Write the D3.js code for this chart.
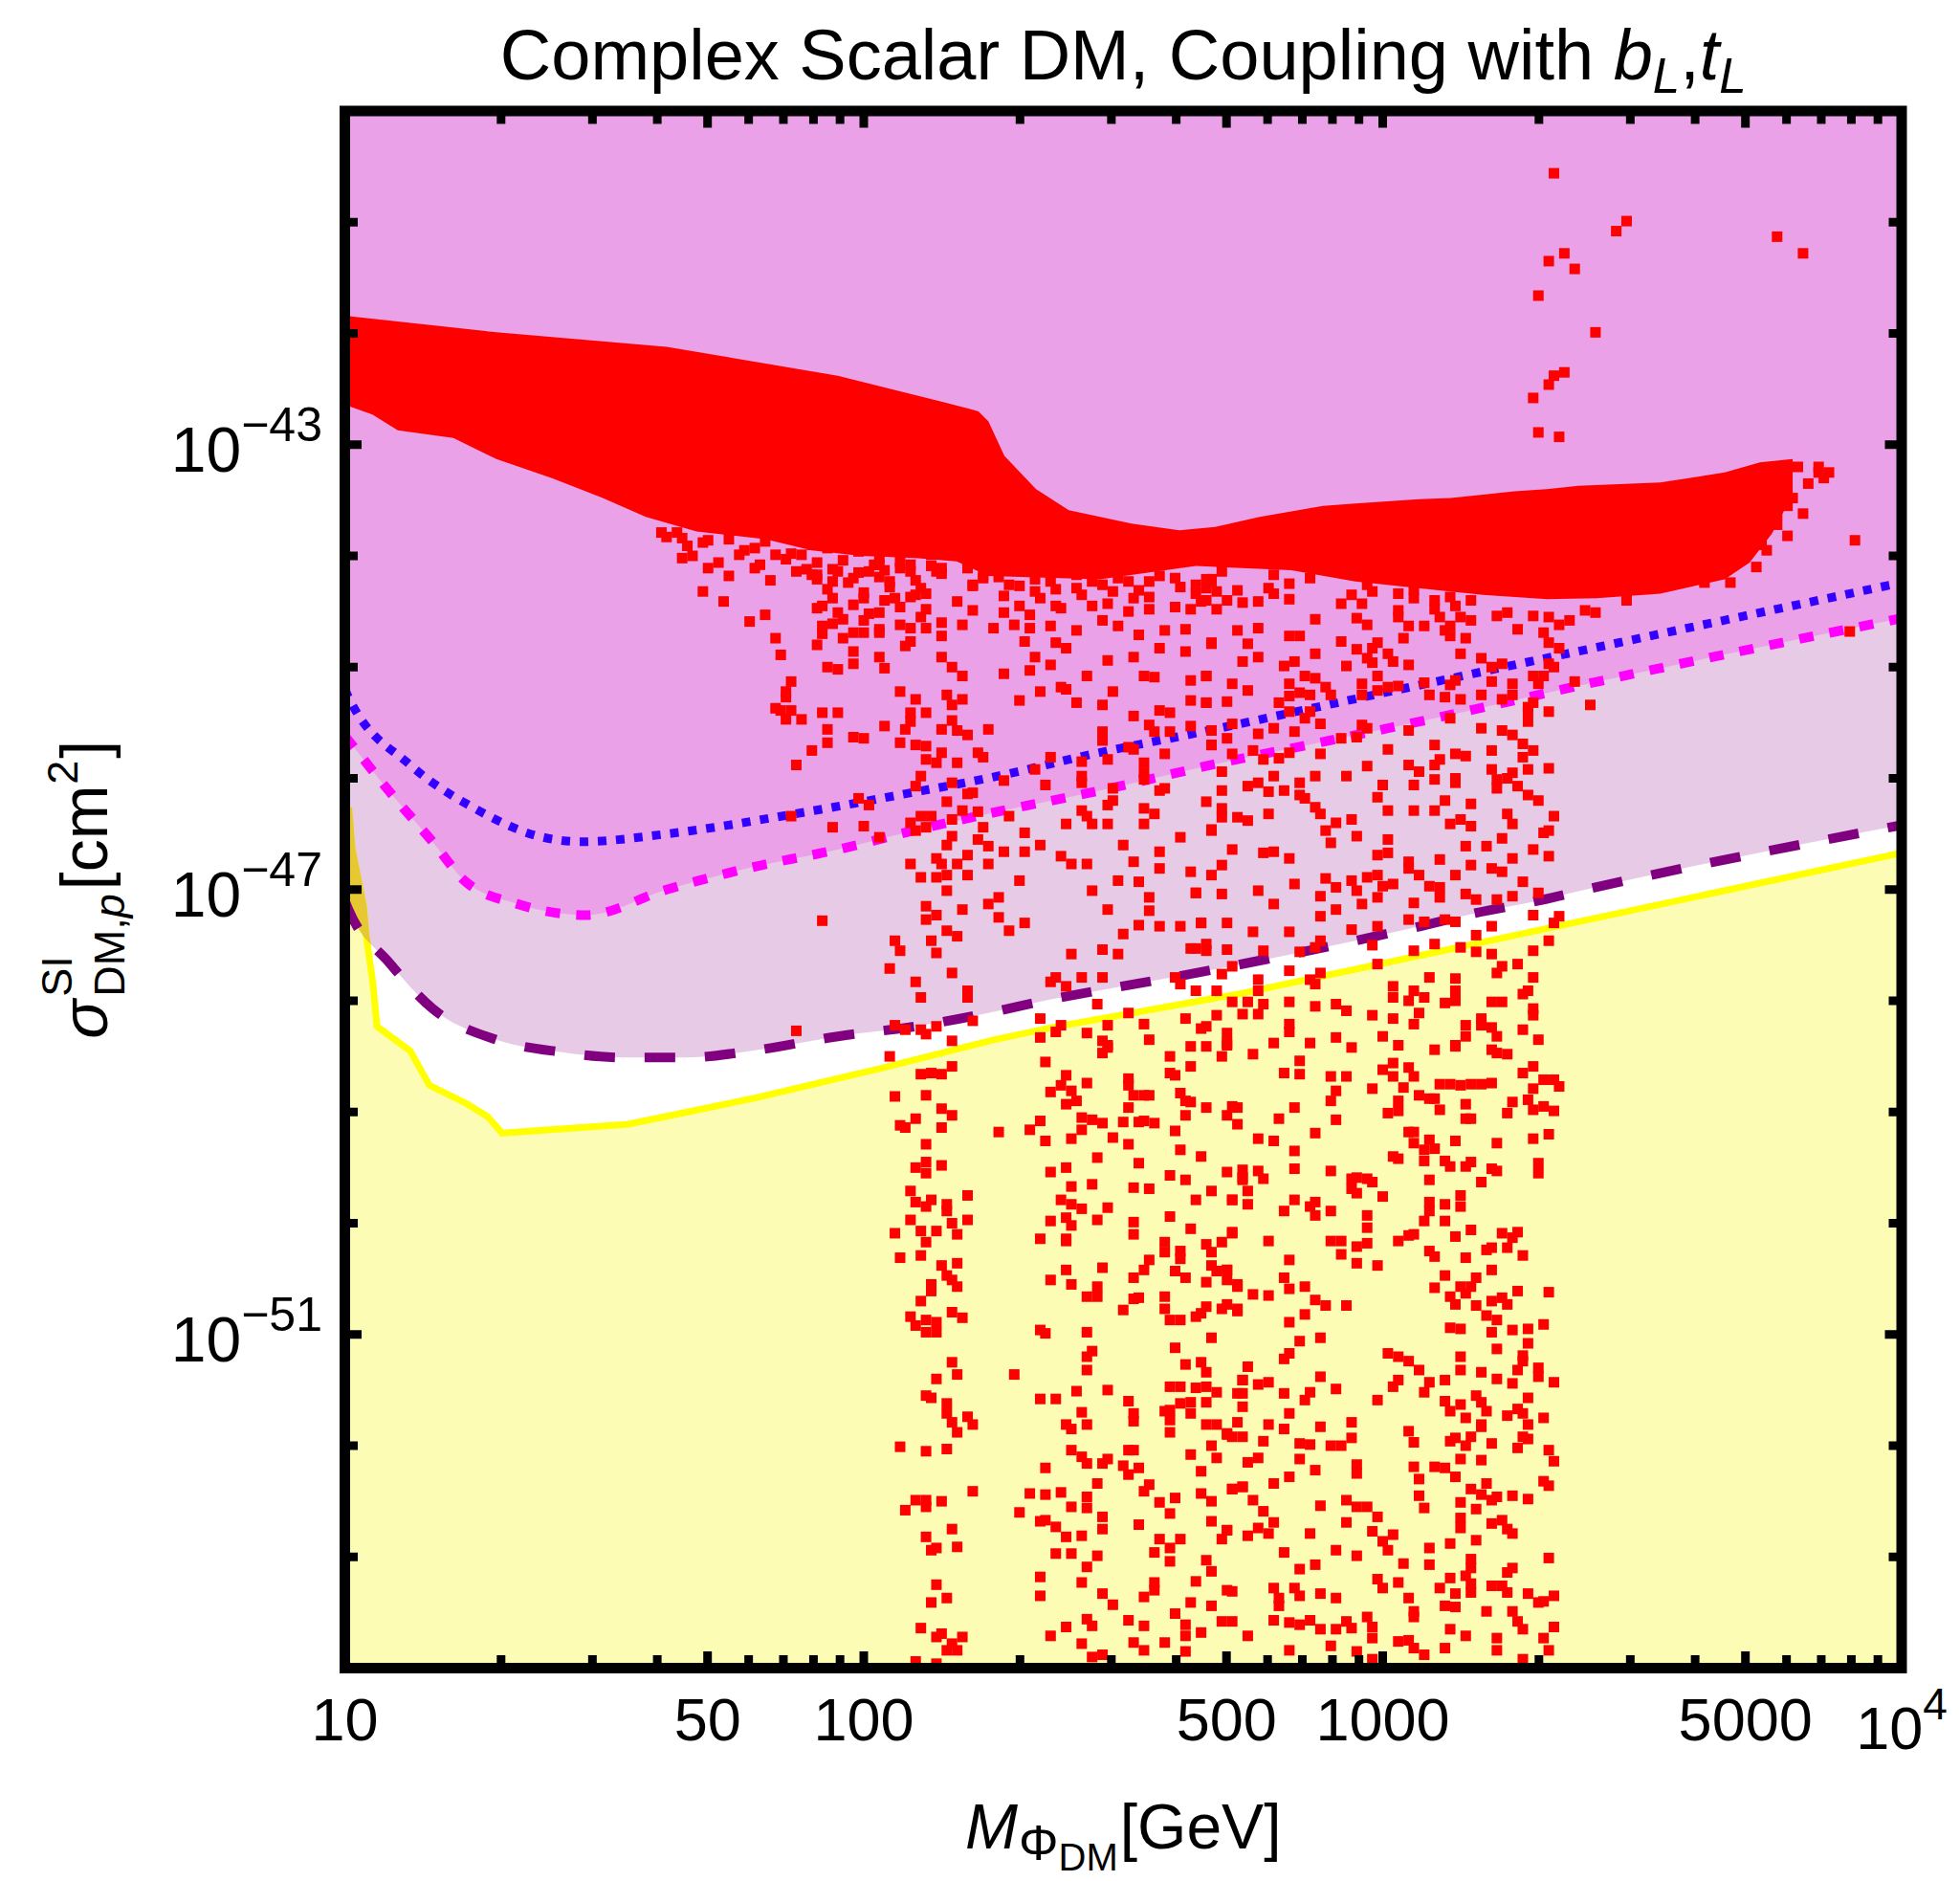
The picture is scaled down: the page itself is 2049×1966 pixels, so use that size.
<!DOCTYPE html>
<html>
<head>
<meta charset="utf-8">
<script src="https://cdn.jsdelivr.net/npm/d3@7"></script>
<style>
  body { margin: 0; background: #fff; }
  svg { display: block; }
  text { font-family: "Liberation Sans", Arial, Helvetica, sans-serif; fill: #000; }
</style>
</head>
<body>
<script>
// Complex scalar DM, SI cross section vs mass
var width = 2049, height = 1966;

// axis ticks
var massMajor = [10, 50, 100, 500, 1000, 5000, 10000];
var massLabelBase = ["10", "50", "100", "500", "1000", "5000", "10"];
var massLabelExp = ["", "", "", "", "", "", "4"];
var massMinor = [20, 30, 40, 60, 70, 80, 90, 200, 300, 400, 600, 700, 800, 900,
                 2000, 3000, 4000, 6000, 7000, 8000, 9000];
var sigmaMajorExp = [-43, -47, -51];
var sigmaMinorExp = [-53, -52, -50, -49, -48, -46, -45, -44, -42, -41];

// limit curves, [log10(M/GeV), log10(sigma/cm^2)]
var blueLimit = [[1.0,-45.20],[1.007,-45.27],[1.126,-45.88],[1.25,-46.27],[1.373,-46.52],[1.456,-46.57],
  [1.62,-46.50],[1.867,-46.32],[2.114,-46.11],[2.238,-46.00],[2.443,-45.78],[2.654,-45.58],[2.903,-45.33],
  [3.113,-45.12],[3.395,-44.84],[4.0,-44.24]];
var magentaLimit = [[1.0,-45.62],[1.014,-45.70],[1.086,-46.12],[1.169,-46.57],[1.233,-46.93],[1.333,-47.13],
  [1.464,-47.23],[1.62,-47.00],[1.784,-46.80],[1.95,-46.64],[2.114,-46.45],[2.238,-46.32],[2.455,-46.11],
  [2.689,-45.86],[2.866,-45.69],[3.1,-45.46],[3.395,-45.15],[4.0,-44.56]];
var purpleLimit = [[1.0,-47.10],[1.007,-47.18],[1.086,-47.66],[1.169,-48.07],[1.292,-48.35],[1.415,-48.46],
  [1.538,-48.51],[1.661,-48.51],[1.784,-48.45],[1.95,-48.32],[2.114,-48.22],[2.24,-48.11],[2.358,-47.99],
  [2.474,-47.89],[2.594,-47.79],[2.947,-47.46],[3.063,-47.34],[3.18,-47.21],[3.29,-47.11],[3.401,-46.99],
  [4.0,-46.42]];
var yellowLimit = [[1.008,-46.29],[1.014,-46.63],[1.036,-47.15],[1.041,-47.41],[1.054,-47.84],[1.062,-48.23],
  [1.126,-48.45],[1.163,-48.76],[1.233,-48.92],[1.275,-49.04],[1.303,-49.19],[1.546,-49.11],[1.784,-48.88],
  [2.031,-48.61],[2.252,-48.35],[2.363,-48.24],[2.732,-47.93],[3.347,-47.32],[4.0,-46.67]];

// dense part of the scan: upper and lower edge
var bandUpper = [[1.0,-41.84],[1.292,-41.99],[1.62,-42.12],[1.95,-42.38],[2.155,-42.62],[2.221,-42.70],
  [2.240,-42.79],[2.271,-43.10],[2.332,-43.40],[2.395,-43.59],[2.516,-43.71],[2.608,-43.77],[2.677,-43.74],
  [2.763,-43.65],[2.824,-43.60],[2.885,-43.55],[2.947,-43.53],[3.008,-43.51],[3.07,-43.49],[3.131,-43.48],
  [3.193,-43.45],[3.254,-43.42],[3.316,-43.40],[3.377,-43.37],[3.535,-43.34],[3.659,-43.25],[3.727,-43.16],
  [3.79,-43.13]];
var bandLower = [[1.0,-42.64],[1.053,-42.73],[1.102,-42.87],[1.209,-42.94],[1.292,-43.13],[1.399,-43.30],
  [1.497,-43.48],[1.58,-43.65],[1.678,-43.78],[1.81,-43.85],[1.90,-43.95],[1.994,-44.00],[2.10,-44.02],
  [2.179,-44.05],[2.24,-44.18],[2.455,-44.21],[2.64,-44.09],[2.824,-44.13],[2.947,-44.23],[3.069,-44.29],
  [3.193,-44.35],[3.317,-44.39],[3.412,-44.38],[3.535,-44.34],[3.659,-44.21],[3.707,-44.06],[3.75,-43.80],
  [3.79,-43.45]];

// scattered scan points
var ptsSpur = [[3.33,-40.56],[3.47,-40.99],[3.45,-41.08],[3.35,-41.28],[3.32,-41.35],[3.37,-41.42],[3.30,-41.66],
  [3.41,-41.99],[3.35,-42.35],[3.33,-42.38],[3.32,-42.46],[3.29,-42.58],[3.30,-42.89],[3.34,-42.93],[3.76,-41.13],
  [3.81,-41.28],[3.91,-43.86],[3.84,-43.25],[3.86,-43.25],[3.76,-43.63],[3.73,-43.90],[3.90,-44.68],[3.54,-44.24],
  [3.62,-44.24],[3.67,-44.24],[3.47,-44.40],[3.70,-43.97],[3.80,-43.20],[3.78,-43.55],[3.79,-43.48],[3.76,-43.72],
  [3.82,-43.35],[3.84,-43.20],[3.85,-43.30],[3.74,-43.95],[3.72,-44.10],[3.78,-43.82],[3.81,-43.62]];
var ptsFringe = [[1.61,-43.79],[1.64,-43.79],[1.69,-43.88],[1.74,-43.85],[1.79,-43.93],[1.83,-43.99],[1.88,-43.99],
  [1.93,-43.93],[1.99,-43.96],[2.03,-44.08],[2.08,-43.88],[2.13,-43.99],[2.20,-44.02],[2.23,-43.93],[1.70,-44.11],
  [1.79,-44.11],[1.87,-44.14],[1.95,-44.14],[2.15,-44.11],[1.69,-44.32],[1.73,-44.41],[1.78,-44.59],[1.81,-44.53],
  [1.83,-44.74],[1.84,-44.89],[1.86,-45.13],[1.85,-45.27],[1.84,-45.39],[1.88,-45.47],[1.90,-45.75],[1.65,-43.84],
  [1.67,-44.00],[1.83,-45.37],[1.87,-45.88],[1.86,-46.34],[1.87,-48.27],[1.85,-45.22],[1.86,-45.39],[1.85,-45.47],
  [2.03,-44.02],[2.09,-44.08],[1.91,-44.17],[1.94,-44.23],[1.98,-44.20],[2.01,-44.14],[2.05,-44.23],
  [2.07,-44.11],[2.11,-44.29],[2.14,-44.14],[2.21,-44.26],[2.23,-44.20],[1.92,-44.45],[1.95,-44.51],[1.96,-44.57],
  [2.00,-44.38],[2.03,-44.51],[2.06,-44.38],[2.10,-44.35],[2.12,-44.48],[1.92,-44.63],[2.28,-44.26],[2.33,-44.32],
  [2.36,-44.23],[2.41,-44.29],[2.44,-44.23],[2.48,-44.32],[2.51,-44.23],[2.55,-44.23],[2.60,-44.20],[2.64,-44.26],
  [2.67,-44.23],
  [1.91,-44.06],[1.94,-44.12],[1.96,-44.04],[1.99,-44.15],[2.02,-44.08],[2.04,-44.13],[2.07,-44.05],[2.09,-44.14],
  [2.13,-44.09],[2.15,-44.16],[2.20,-44.11],[2.22,-44.06],
  [1.91,-44.21],[1.93,-44.30],[1.97,-44.24],[2.00,-44.33],[2.03,-44.19],[2.05,-44.28],[2.10,-44.22],[2.12,-44.34],
  [2.21,-44.27],[2.23,-44.18],
  [1.91,-44.47],[1.94,-44.38],[1.98,-44.44],[2.01,-44.52],[2.04,-44.40],[2.07,-44.46],[2.09,-44.37],[2.11,-44.55],
  [1.92,-44.70],[1.94,-44.61],[1.96,-44.74],[2.00,-44.58],[2.03,-44.69],[2.07,-44.62],[2.09,-44.77],[2.15,-44.60],
  [2.26,-44.19],[2.30,-44.27],[2.33,-44.21],[2.37,-44.30],[2.41,-44.17],[2.46,-44.26],[2.49,-44.20],[2.53,-44.31],
  [2.57,-44.18],[2.61,-44.28],[2.66,-44.21],
  [2.27,-44.36],[2.30,-44.45],[2.34,-44.38],[2.38,-44.47],[2.42,-44.35],[2.47,-44.43],[2.51,-44.50],[2.55,-44.37],
  [2.60,-44.46],[2.64,-44.34],
  [1.62,-43.83],[1.66,-43.91],[1.70,-43.86],[1.77,-43.95],[1.81,-43.87],[1.86,-43.98],[1.90,-43.90],
  [1.65,-44.02],[1.72,-44.06],[1.76,-43.99],[1.80,-44.08],[1.85,-44.03],[1.89,-44.12],
  [1.74,-44.18],[1.82,-44.22],[1.90,-44.17]];
var ptsPink = [[2.18,-44.41],[2.21,-44.49],[2.27,-44.51],[2.32,-44.53],[2.37,-44.45],[2.44,-44.45],[2.52,-44.38],
  [2.55,-44.48],[2.63,-44.48],[2.66,-44.40],[1.98,-44.69],[2.00,-44.69],[2.03,-44.66],[2.09,-44.65],[2.12,-44.65],
  [2.15,-44.72],[2.19,-44.62],[2.25,-44.65],[2.29,-44.62],[2.32,-44.65],[2.36,-44.63],[2.41,-44.67],[2.46,-44.58],
  [2.49,-44.63],[2.53,-44.71],[2.58,-44.67],[2.62,-44.66],[1.91,-44.80],[1.98,-44.86],[2.03,-44.91],[2.08,-44.81],
  [2.15,-44.91],[2.17,-45.00],[2.31,-44.77],[2.33,-44.91],[2.37,-44.78],[2.39,-44.83],[2.47,-44.94],[2.52,-44.91],
  [2.57,-44.83],[2.62,-44.86],[2.67,-44.78],[1.93,-45.00],[1.95,-45.02],[1.98,-44.97],[2.04,-45.01],[2.19,-45.08],
  [2.27,-45.06],[2.32,-45.03],[2.36,-44.98],[2.43,-45.08],[2.54,-45.08],[2.56,-45.09],[2.63,-45.12],[2.66,-45.08],
  [2.07,-45.22],[2.10,-45.29],[2.16,-45.25],[2.19,-45.29],[2.30,-45.30],[2.34,-45.22],[2.38,-45.18],[2.39,-45.20],
  [2.41,-45.32],[2.46,-45.34],[2.48,-45.22],[2.52,-45.44],[2.57,-45.39],[2.59,-45.41],[2.63,-45.30],[2.66,-45.32],
  [1.92,-45.41],[1.95,-45.41],[2.09,-45.41],[2.12,-45.41],[2.17,-45.34],[2.04,-45.53],[2.09,-45.49],[2.17,-45.48],
  [2.15,-45.56],[2.18,-45.57],[2.20,-45.61],[2.24,-45.56],[1.93,-45.56],[1.98,-45.63],[2.00,-45.64],[2.08,-45.56],
  [2.46,-45.58],[2.55,-45.52],[2.56,-45.58],[2.59,-45.58],[2.63,-45.53],[2.67,-45.57],[1.93,-45.68],[2.07,-45.68],
  [2.10,-45.70],[2.12,-45.71],[2.12,-45.83],[2.15,-45.77],[2.22,-45.77],[2.23,-45.81],[2.18,-45.86],[2.14,-45.86],
  [2.46,-45.66],[2.51,-45.72],[2.52,-45.74],[2.47,-45.83],[2.54,-45.86],[2.58,-45.78],[2.36,-45.81],[2.42,-45.85],
  [2.67,-45.70],[2.11,-45.98],[2.10,-46.07],[2.17,-46.04],[2.20,-46.14],[2.21,-46.13],[2.27,-46.02],[2.33,-45.92],
  [2.35,-46.06],[2.42,-45.98],[2.42,-46.04],[2.54,-45.95],[2.54,-46.01],[2.57,-46.11],[2.58,-46.09],[2.48,-46.09],
  [2.48,-46.20],[2.47,-46.24],[1.99,-46.18],[2.01,-46.24],[2.16,-46.21],[2.19,-46.29],[2.22,-46.30],[2.17,-46.37],
  [2.11,-46.34],[2.13,-46.34],[2.09,-46.40],[2.12,-46.44],[2.10,-46.47],[1.94,-46.44],[2.00,-46.43],[2.03,-46.53],
  [2.28,-46.34],[2.31,-46.49],[2.23,-46.44],[2.42,-46.29],[2.43,-46.34],[2.39,-46.41],[2.44,-46.41],[2.47,-46.41],
  [2.54,-46.27],[2.56,-46.32],[2.54,-46.41],[2.67,-46.46],[2.61,-46.53],[2.16,-46.60],[2.17,-46.52],[2.22,-46.55],
  [2.24,-46.61],[2.27,-46.66],[2.31,-46.66],[2.34,-46.60],[2.38,-46.70],[2.40,-46.77],[2.43,-46.77],[2.50,-46.60],
  [2.52,-46.75],[2.57,-46.66],[2.57,-46.81],[2.63,-46.84],[2.09,-46.77],[2.14,-46.72],[2.15,-46.77],[2.18,-46.77],
  [2.20,-46.69],[2.24,-46.77],[2.11,-46.89],[2.14,-46.89],[2.16,-46.87],[2.20,-46.87],[2.30,-46.92],[2.16,-47.01],
  [2.26,-47.07],[2.24,-47.13],[2.44,-47.01],[2.49,-46.92],[2.53,-46.93],[2.55,-47.07],[2.64,-47.03],[1.92,-47.28],
  [2.12,-47.15],[2.14,-47.23],[2.12,-47.27],[2.19,-47.18],[2.26,-47.25],[2.31,-47.30],[2.16,-47.37],[2.18,-47.42],
  [2.28,-47.37],[2.06,-47.46],[2.13,-47.46],[2.07,-47.55],[2.47,-47.18],[2.55,-47.19],[2.53,-47.32],[2.57,-47.33],
  [2.61,-47.33],[2.65,-47.30],[2.50,-47.40],[2.63,-47.53],[2.66,-47.49],[2.46,-47.54],[2.40,-47.58],[2.49,-47.58],
  [2.14,-47.57]];
var ptsRight = [[2.69,-44.14],[2.67,-44.21],[2.79,-44.17],[2.82,-44.25],[2.86,-44.20],[2.66,-44.29],[2.68,-44.32],
  [2.72,-44.31],[2.78,-44.29],[2.79,-44.34],[2.65,-44.41],[2.70,-44.40],[2.73,-44.42],[2.76,-44.41],[2.82,-44.39],
  [2.92,-44.43],[2.94,-44.35],[2.97,-44.26],[2.96,-44.43],[3.03,-44.34],[3.06,-44.30],[3.06,-44.38],[3.10,-44.40],
  [3.13,-44.37],[3.14,-44.45],[3.17,-44.40],[2.98,-44.32],[2.68,-44.48],[2.87,-44.57],[2.95,-44.56],[2.97,-44.62],
  [3.03,-44.49],[3.03,-44.55],[3.05,-44.63],[3.08,-44.63],[3.10,-44.48],[3.11,-44.55],[3.13,-44.63],[3.15,-44.55],
  [3.17,-44.58],[3.22,-44.54],[3.24,-44.51],[3.29,-44.54],[3.32,-44.55],[3.34,-44.62],[3.36,-44.58],[3.26,-44.66],
  [3.31,-44.69],[3.39,-44.49],[3.41,-44.51],[2.72,-44.67],[2.76,-44.65],[2.67,-44.79],[2.74,-44.79],[2.82,-44.72],
  [2.84,-44.72],[2.92,-44.77],[2.95,-44.84],[2.98,-44.83],[2.99,-44.78],[3.04,-44.74],[3.12,-44.67],[3.13,-44.72],
  [3.16,-44.74],[3.32,-44.78],[3.34,-44.83],[2.73,-44.95],[2.76,-44.91],[2.81,-44.99],[2.83,-44.95],[2.87,-44.88],
  [2.93,-44.99],[2.97,-44.92],[2.98,-44.96],[3.01,-44.88],[3.05,-44.98],[3.02,-44.95],[3.15,-44.88],[3.19,-44.92],
  [3.21,-45.00],[3.23,-44.97],[3.32,-44.97],[3.29,-45.08],[3.33,-45.00],[2.66,-45.08],[2.71,-45.15],[2.74,-45.21],
  [2.82,-45.15],[2.85,-45.08],[2.87,-45.10],[2.89,-45.18],[2.96,-45.15],[2.99,-45.08],[3.01,-45.18],[3.03,-45.17],
  [3.08,-45.14],[3.13,-45.16],[3.14,-45.12],[3.21,-45.13],[3.25,-45.15],[3.30,-45.15],[3.37,-45.13],[3.31,-45.08],
  [2.66,-45.32],[2.70,-45.31],[2.80,-45.32],[2.82,-45.26],[2.84,-45.23],[2.86,-45.25],[2.90,-45.25],[2.96,-45.25],
  [2.99,-45.21],[3.09,-45.25],[3.12,-45.27],[3.15,-45.29],[3.19,-45.25],[3.23,-45.29],[3.25,-45.25],[3.28,-45.36],
  [3.29,-45.32],[3.40,-45.34],[3.32,-45.40],[2.71,-45.51],[2.76,-45.60],[2.79,-45.55],[2.83,-45.58],[2.88,-45.51],
  [2.82,-45.40],[2.85,-45.46],[2.86,-45.40],[2.96,-45.52],[2.97,-45.55],[2.92,-45.64],[2.95,-45.63],[3.05,-45.57],
  [3.13,-45.46],[3.19,-45.55],[3.23,-45.57],[3.25,-45.61],[3.28,-45.40],[3.28,-45.49],[2.67,-45.70],[2.70,-45.64],
  [2.71,-45.78],[2.75,-45.75],[2.77,-45.83],[2.80,-45.82],[2.82,-45.77],[2.88,-45.78],[3.01,-45.74],[3.10,-45.70],
  [3.11,-45.83],[3.14,-45.78],[3.16,-45.80],[3.21,-45.75],[3.27,-45.81],[3.29,-45.75],[3.27,-45.69]];
var ptsLavender = [[2.69,-45.94],[2.66,-46.21],[2.69,-46.11],[2.69,-46.27],[2.72,-46.35],[2.74,-46.38],[2.69,-46.35],
  [2.67,-46.47],[2.74,-46.07],[2.76,-46.04],[2.78,-46.12],[2.78,-46.32],[2.79,-45.98],[2.81,-46.11],[2.84,-46.04],
  [2.84,-46.15],[2.85,-46.18],[2.87,-45.98],[2.87,-46.26],[2.88,-46.32],[2.93,-45.98],[2.91,-46.40],[2.89,-46.47],
  [2.90,-46.58],[2.94,-46.37],[2.95,-46.52],[2.97,-45.89],[2.99,-46.17],[3.00,-46.06],[3.01,-46.29],[3.01,-46.55],
  [3.05,-45.88],[3.06,-46.06],[3.06,-46.29],[3.07,-45.94],[3.10,-45.88],[3.10,-46.01],[3.10,-46.29],[3.12,-46.20],
  [3.13,-46.41],[3.14,-46.00],[3.14,-46.04],[3.15,-46.37],[3.17,-46.23],[3.17,-46.43],[3.16,-46.61],[3.20,-46.61],
  [3.21,-45.92],[3.22,-46.01],[3.22,-46.09],[3.24,-46.32],[3.23,-46.54],[3.24,-46.00],[3.25,-46.41],[3.25,-45.95],
  [3.26,-46.07],[3.28,-46.15],[3.28,-45.92],[3.30,-46.20],[3.31,-46.49],[3.32,-45.91],[3.33,-46.34],[3.32,-46.47],
  [2.71,-46.64],[2.69,-46.78],[2.67,-46.87],[2.77,-46.67],[2.79,-46.66],[2.82,-46.72],[2.83,-46.95],[2.89,-46.90],
  [2.91,-46.98],[2.94,-46.92],[2.97,-46.89],[2.95,-47.01],[2.99,-46.69],[3.01,-46.67],[2.99,-46.87],[3.00,-46.97],
  [3.02,-46.95],[3.05,-46.75],[3.05,-46.81],[3.07,-46.87],[3.09,-46.97],[3.11,-46.73],[3.11,-46.98],[3.14,-46.87],
  [3.17,-46.78],[3.21,-46.81],[3.23,-46.84],[3.25,-46.72],[3.29,-46.64],[3.32,-46.70],[3.27,-46.93],[3.30,-47.03],
  [2.65,-47.30],[2.69,-47.04],[2.70,-47.30],[2.76,-47.01],[2.79,-47.13],[2.88,-47.06],[2.91,-47.18],[2.96,-47.13],
  [2.99,-47.07],[3.06,-47.12],[3.05,-47.27],[3.08,-47.29],[3.11,-47.07],[3.12,-47.27],[3.14,-47.29],[3.16,-47.04],
  [3.18,-47.09],[3.22,-47.09],[3.25,-47.06],[3.29,-47.23],[3.34,-47.24],[3.33,-47.30],[2.75,-47.38],[2.82,-47.38],
  [2.88,-47.24],[2.88,-47.46],[2.94,-47.36],[2.99,-47.33],[3.18,-47.41],[3.21,-47.33],[2.64,-47.03],[2.64,-47.53],
  [2.66,-47.55],[2.70,-47.54],[2.77,-47.55],[2.84,-47.56],[2.87,-47.52],[2.98,-47.50],[3.06,-47.55],[3.10,-47.49],
  [3.15,-47.52],[3.18,-47.56],[3.21,-47.58],[3.29,-47.55],[3.32,-47.46]];
var ptsLowLeft = [[2.05,-47.71],[2.10,-47.83],[2.11,-47.97],[2.17,-47.75],[2.20,-47.91],[2.20,-47.97],[2.06,-48.22],
  [2.08,-48.26],[2.11,-48.26],[2.14,-48.23],[2.12,-48.30],[2.17,-48.36],[2.21,-48.18],[2.05,-48.50],[2.11,-48.66],
  [2.13,-48.65],[2.15,-48.66],[2.17,-48.59],[2.06,-48.86],[2.12,-48.85],[2.15,-48.97],[2.10,-49.06],[2.07,-49.12],
  [2.08,-49.14],[2.15,-49.14],[2.17,-49.03],[2.12,-49.29],[2.10,-49.50],[2.12,-49.45],[2.15,-49.48],[2.12,-49.55],
  [2.09,-49.71],[2.10,-49.81],[2.12,-49.85],[2.13,-49.79],[2.16,-49.83],[2.16,-49.89],[2.20,-49.75],[2.20,-49.97],
  [2.09,-49.97],[2.11,-50.07],[2.14,-50.07],[2.17,-50.00],[2.18,-50.10],[2.06,-50.09],[2.12,-50.17],[2.07,-50.31],
  [2.11,-50.29],[2.15,-50.38],[2.18,-50.36],[2.16,-50.47],[2.17,-50.51],[2.18,-50.57],[2.13,-50.55],[2.13,-50.61],
  [2.11,-50.70],[2.09,-50.84],[2.10,-50.92],[2.12,-50.87],[2.14,-50.89],[2.14,-50.98],[2.12,-50.98],[2.17,-50.80],
  [2.19,-50.85],[2.17,-51.25],[2.18,-51.36],[2.14,-51.40],[2.12,-51.55],[2.13,-51.57],[2.16,-51.62],[2.16,-51.71],
  [2.17,-51.79],[2.18,-51.88],[2.20,-51.74],[2.21,-51.81],[2.07,-52.01],[2.12,-52.05],[2.16,-52.03],[2.21,-52.41],
  [2.10,-52.49],[2.12,-52.49],[2.12,-52.55],[2.15,-52.50],[2.08,-52.58],[2.17,-52.75],[2.12,-52.82],[2.18,-52.91],
  [2.13,-52.94],[2.14,-52.92],[2.14,-53.25],[2.13,-53.41],[2.16,-53.37],[2.11,-53.64],[2.14,-53.72],[2.15,-53.69],
  [2.17,-53.78],[2.19,-53.72],[2.18,-53.84],[2.16,-53.84],[2.10,-53.94],[2.14,-53.96],[2.26,-49.18],
  [2.29,-51.36],[2.34,-51.58],[2.37,-51.58],[2.30,-52.60],[2.32,-52.43],[2.35,-52.44],[2.35,-52.20],[2.34,-52.68],
  [2.34,-53.18],[2.34,-53.35],[2.34,-50.96],[2.35,-50.99],[2.36,-50.51],[2.34,-50.14],[2.36,-49.98],[2.36,-48.82],
  [2.34,-49.08],[2.32,-49.16],[2.35,-49.26],[2.35,-48.55],[2.38,-48.22],[2.34,-48.33],[2.34,-48.16],[2.37,-48.28],
  [2.36,-49.54],[2.39,-49.50],[2.38,-49.79],[2.40,-49.67],[2.40,-49.83],[2.39,-49.95],[2.40,-50.02],[2.39,-50.14],
  [2.39,-50.16],[2.39,-50.42],[2.40,-50.55],[2.42,-49.87],[2.44,-49.65],[2.45,-49.97],[2.47,-49.86],[2.38,-48.76],
  [2.39,-48.67],[2.40,-48.81],[2.41,-48.90],[2.39,-48.93],[2.43,-48.74],[2.42,-49.05],[2.42,-49.16],[2.40,-49.24],
  [2.44,-49.07],[2.46,-49.10],[2.45,-49.41],[2.43,-50.66],[2.45,-50.66],[2.45,-50.57],[2.46,-50.40],[2.43,-50.98],
  [2.44,-51.15],[2.43,-51.20],[2.43,-51.32],[2.41,-51.51],[2.42,-51.70],[2.39,-51.81],[2.40,-51.85],[2.43,-51.81],
  [2.40,-52.04],[2.42,-52.10],[2.43,-52.16],[2.47,-52.12],[2.46,-52.16],[2.45,-52.34],[2.38,-52.42],[2.40,-52.55],
  [2.43,-52.46],[2.43,-52.56],[2.35,-52.67],[2.37,-52.73],[2.39,-52.82],[2.42,-52.81],[2.37,-52.97],[2.40,-52.97],
  [2.45,-52.99],[2.46,-52.64],[2.46,-52.75],[2.43,-53.09],[2.42,-53.23],[2.46,-53.33],[2.48,-53.43],[2.39,-53.63],
  [2.36,-53.71],[2.43,-53.56],[2.44,-53.62],[2.42,-53.78],[2.44,-53.90],[2.46,-53.88],[2.47,-51.50],[2.51,-51.60],
  [2.52,-51.78],[2.51,-52.04],[2.52,-52.04],[2.51,-52.26],[2.50,-52.18],[2.53,-52.20],[2.52,-51.71],[2.51,-48.70],
  [2.51,-48.76],[2.52,-48.85],[2.54,-48.85],[2.55,-48.85],[2.51,-48.96],[2.50,-49.09],[2.53,-49.09],[2.54,-49.08],
  [2.56,-49.10],[2.48,-49.23],[2.51,-49.29],[2.53,-49.46],[2.52,-49.68],[2.55,-49.69],[2.52,-49.99],[2.52,-50.10],
  [2.55,-50.33],[2.54,-50.42],[2.52,-50.49],[2.53,-50.67],[2.50,-50.78],[2.52,-50.68],[2.53,-52.71],[2.54,-52.41],
  [2.55,-52.35],[2.57,-52.51],[2.60,-52.47],[2.59,-52.61],[2.57,-52.84],[2.61,-52.84],[2.56,-52.96],[2.59,-52.92],
  [2.59,-53.04],[2.56,-53.23],[2.56,-53.30],[2.54,-53.36],[2.60,-53.51],[2.63,-53.41],[2.62,-53.61],[2.62,-53.71],
  [2.51,-53.57],[2.52,-53.77],[2.54,-53.62],[2.54,-53.84],[2.58,-53.77],[2.62,-53.85],[2.65,-53.68],[2.67,-53.44],
  [2.69,-53.58],[2.71,-53.31],[2.64,-53.22],[2.67,-53.13],[2.66,-53.03],[2.69,-52.84],[2.70,-52.76],[2.67,-52.68],
  [2.67,-52.50],[2.65,-52.43],[2.71,-52.39],[2.73,-52.37],[2.68,-52.11],[2.67,-52.00],[2.65,-52.23],[2.63,-52.08],
  [2.70,-51.90],[2.71,-51.92],[2.68,-51.81],[2.66,-51.81],[2.63,-51.71],[2.63,-51.61],[2.66,-51.61],[2.61,-51.62],
  [2.59,-51.68],[2.58,-51.69],[2.59,-51.77],[2.59,-51.88],[2.61,-51.47],[2.59,-51.47],[2.64,-51.48],[2.66,-51.47],
  [2.68,-51.52],[2.72,-51.53],[2.73,-51.41],[2.60,-51.12],[2.62,-51.27],[2.65,-51.25],[2.66,-51.34],[2.67,-51.03],
  [2.61,-50.87],[2.59,-50.87],[2.58,-50.77],[2.58,-50.66],[2.60,-50.43],[2.62,-50.49],[2.66,-50.53],[2.64,-50.84],
  [2.65,-50.81],[2.66,-50.75],[2.69,-50.77],[2.70,-50.73],[2.72,-50.79],[2.67,-50.38],[2.68,-50.43],[2.70,-50.42],
  [2.70,-50.51],[2.72,-50.55],[2.67,-50.26],[2.66,-50.19],[2.69,-50.17],[2.71,-50.08],[2.63,-50.05],[2.61,-50.25],
  [2.61,-50.32],[2.58,-50.17],[2.58,-50.26],[2.59,-49.94],[2.64,-49.79],[2.67,-49.71],[2.71,-49.79],[2.70,-49.54],
  [2.73,-49.59],[2.59,-49.57],[2.62,-49.61],[2.61,-49.34],[2.65,-49.40],[2.70,-49.03],[2.72,-48.96],[2.63,-48.91],
  [2.66,-48.96],[2.60,-49.17],[2.62,-49.03],[2.62,-48.90],[2.61,-48.83],[2.60,-48.67],[2.59,-48.65],[2.63,-48.59],
  [2.59,-48.50],[2.63,-48.41],[2.66,-48.41],[2.69,-48.50],[2.70,-48.40],[2.70,-48.29],[2.65,-48.25],[2.66,-48.23],
  [2.62,-48.16],[2.68,-48.13],[2.71,-48.01],[2.64,-47.91],[2.68,-47.91],[2.69,-47.76],[2.60,-47.79],[2.61,-47.85],
  [2.54,-48.21],[2.55,-48.35],[2.51,-48.11],[2.47,-48.22],[2.47,-48.40],[2.46,-48.36],[2.47,-48.42],[2.46,-48.47],
  [2.43,-48.29],[2.45,-48.03],[2.46,-47.79],[2.37,-47.79],[2.42,-47.79],[2.36,-47.83],[2.39,-47.87]];
var ptsLowRight = [[2.71,-47.69],[2.76,-47.81],[2.76,-47.91],[2.82,-47.73],[2.86,-47.81],[2.87,-47.85],[2.88,-47.75],
  [2.74,-48.01],[2.77,-48.03],[2.82,-48.01],[2.87,-48.05],[2.91,-48.03],[2.93,-48.09],[2.73,-48.12],[2.76,-48.12],
  [2.82,-48.21],[2.82,-48.28],[2.70,-48.38],[2.75,-48.48],[2.79,-48.38],[2.86,-48.38],[2.91,-48.33],[2.94,-48.42],
  [2.81,-48.65],[2.84,-48.54],[2.84,-48.66],[2.90,-48.68],[2.93,-48.68],[2.91,-48.81],[2.90,-48.90],[2.71,-48.95],
  [2.72,-49.11],[2.80,-49.06],[2.83,-48.96],[2.87,-49.19],[2.91,-49.07],[2.76,-49.24],[2.79,-49.26],[2.83,-49.35],
  [2.83,-49.51],[2.90,-49.53],[2.94,-49.60],[2.95,-49.59],[2.97,-49.60],[2.94,-49.69],[2.95,-49.73],[2.98,-49.63],
  [3.00,-49.76],[2.73,-49.52],[2.73,-49.61],[2.76,-49.53],[2.77,-49.60],[2.74,-49.71],[2.71,-49.79],[2.74,-49.83],
  [2.81,-49.89],[2.83,-49.79],[2.86,-49.85],[2.87,-49.81],[2.87,-49.93],[2.90,-49.89],[2.71,-50.09],[2.78,-50.16],
  [2.90,-50.16],[2.92,-50.16],[2.95,-50.21],[2.97,-50.18],[2.97,-49.93],[2.97,-50.04],[2.92,-50.28],[2.95,-50.36],
  [2.99,-50.38],[2.82,-50.33],[2.81,-50.49],[2.82,-50.59],[2.85,-50.57],[2.70,-50.42],[2.72,-50.57],[2.75,-50.64],
  [2.78,-50.65],[2.72,-50.77],[2.82,-50.89],[2.85,-50.82],[2.87,-50.69],[2.89,-50.74],[2.93,-50.74],[2.88,-51.03],
  [2.84,-51.06],[2.81,-51.22],[2.82,-51.17],[2.74,-51.29],[2.73,-51.41],[2.76,-51.45],[2.78,-51.43],[2.73,-51.53],
  [2.73,-51.65],[2.81,-51.53],[2.85,-51.59],[2.86,-51.52],[2.88,-51.38],[2.91,-51.49],[2.82,-51.71],[2.72,-51.79],
  [2.70,-51.89],[2.73,-51.92],[2.77,-51.96],[2.78,-51.81],[2.81,-51.85],[2.84,-51.98],[2.86,-51.99],[2.88,-51.83],
  [2.90,-52.00],[2.92,-52.00],[2.94,-51.79],[2.94,-51.93],[2.84,-52.12],[2.87,-52.22],[2.95,-52.17],[2.95,-52.25],
  [2.74,-52.15],[2.76,-52.11],[2.71,-52.39],[2.73,-52.37],[2.79,-52.34],[2.82,-52.28],[2.75,-52.49],[2.77,-52.59],
  [2.76,-52.74],[2.78,-52.79],[2.79,-52.69],[2.70,-52.76],[2.74,-52.81],[2.81,-52.96],[2.86,-52.79],[2.88,-52.54],
  [2.93,-52.49],[2.95,-52.55],[2.97,-52.55],[2.93,-52.69],[2.98,-52.77],[2.99,-52.64],[2.84,-53.11],[2.87,-53.07],
  [2.91,-52.94],[2.95,-52.99],[2.70,-53.30],[2.79,-53.28],[2.80,-53.37],[2.83,-53.28],[2.84,-53.35],[2.88,-53.33],
  [2.91,-53.37],[2.80,-53.44],[2.79,-53.57],[2.82,-53.59],[2.84,-53.61],[2.86,-53.57],[2.88,-53.65],[2.91,-53.65],
  [2.93,-53.58],[2.94,-53.64],[2.97,-53.54],[2.98,-53.73],[2.71,-53.58],[2.74,-53.71],[2.82,-53.84],[2.90,-53.80],
  [2.95,-53.85],[2.98,-53.92],[3.03,-53.76],[3.05,-53.75],[3.08,-53.88],[2.98,-53.63],
  [2.99,-47.67],[3.02,-47.87],[3.02,-47.97],[3.05,-48.00],[3.06,-47.91],[3.08,-47.97],[3.09,-47.79],[3.12,-48.02],
  [3.14,-47.80],[3.14,-47.91],[3.14,-48.00],[2.98,-48.13],[3.02,-48.16],[3.06,-48.21],[3.07,-48.11],[3.10,-48.44],
  [3.14,-48.41],[3.00,-48.32],[3.03,-48.40],[3.02,-48.56],[3.02,-48.68],[3.00,-48.62],[2.98,-48.79],[3.05,-48.60],
  [3.06,-48.68],[3.04,-48.78],[3.07,-48.85],[3.10,-48.88],[3.11,-48.75],[3.13,-48.75],[3.15,-48.76],[3.17,-48.75],
  [3.19,-48.75],[3.21,-48.74],[3.23,-47.69],[3.22,-47.75],[3.26,-47.67],[3.27,-47.94],[3.23,-48.01],[3.28,-47.91],
  [3.29,-47.79],[3.29,-48.07],[3.29,-48.13],[3.21,-48.01],[3.21,-48.24],[3.22,-48.32],[3.27,-48.26],[3.19,-48.16],
  [3.19,-48.22],[3.16,-48.22],[3.16,-48.32],[3.14,-48.40],[3.21,-48.44],[3.22,-48.47],[3.24,-48.48],[3.30,-48.35],
  [3.27,-48.65],[3.29,-48.59],[3.31,-48.71],[3.33,-48.71],[3.34,-48.77],[3.29,-48.79],[3.25,-48.91],[3.28,-48.89],
  [3.29,-48.98],[3.31,-48.95],[3.33,-48.99],[3.24,-49.01],[3.16,-48.93],[3.16,-49.06],[3.17,-49.06],[3.11,-48.98],
  [3.09,-48.88],[3.03,-48.90],[3.03,-48.99],[3.01,-49.01],[3.05,-49.18],[3.06,-49.18],[3.06,-49.28],[3.09,-49.25],
  [3.10,-49.33],[3.14,-49.26],[3.22,-49.28],[3.29,-49.24],[3.32,-49.20],[3.08,-49.34],[3.08,-49.44],[3.02,-49.40],
  [3.03,-49.42],[3.12,-49.44],[3.13,-49.49],[3.16,-49.49],[3.17,-49.45],[3.21,-49.51],[3.22,-49.53],[3.19,-49.63],
  [3.09,-49.61],[3.30,-49.46],[3.30,-49.55],[3.15,-49.75],[3.15,-49.85],[3.12,-49.83],[3.09,-49.81],[3.09,-49.89],
  [3.08,-49.98],[3.12,-49.98],[3.14,-50.12],[3.17,-50.06],[3.06,-50.10],[3.05,-50.11],[3.03,-50.16],[3.23,-50.09],
  [3.25,-50.13],[3.26,-50.08],[3.24,-50.22],[3.27,-50.29],[3.21,-50.22],[3.20,-50.24],[3.16,-50.31],[3.10,-50.30],
  [3.09,-50.25],[3.12,-50.47],[3.10,-50.58],[3.15,-50.57],[3.17,-50.57],[3.18,-50.49],[3.21,-50.42],[3.13,-50.66],
  [3.14,-50.73],[3.16,-50.63],[3.18,-50.74],[3.21,-50.70],[3.23,-50.67],[3.24,-50.73],[3.26,-50.61],[3.32,-50.62],
  [3.13,-50.94],[3.15,-50.95],[3.20,-50.83],[3.22,-50.87],[3.21,-50.98],[3.25,-50.96],[3.28,-50.95],[3.31,-50.91],
  [3.22,-51.13],[3.28,-51.08],[3.27,-51.19],[3.27,-51.24],[3.26,-51.32],[3.25,-51.44],[3.30,-51.30],[3.30,-51.38],
  [3.33,-51.43],[3.22,-51.40],[3.19,-51.34],[3.15,-51.20],[3.15,-51.32],[3.03,-51.20],[3.05,-51.24],[3.01,-51.17],
  [3.07,-51.32],[3.03,-51.41],[3.02,-51.47],[3.09,-51.43],[3.08,-51.52],[3.12,-51.41],[2.99,-51.59],[3.12,-51.60],
  [3.13,-51.69],[3.15,-51.63],[3.16,-51.75],[3.18,-51.55],[3.19,-51.61],[3.20,-51.69],[3.19,-51.81],[3.24,-51.73],
  [3.26,-51.67],[3.28,-51.57],[3.27,-51.71],[3.31,-51.75],[3.32,-52.04],[3.33,-52.14],[3.28,-51.81],[3.27,-51.92],
  [3.28,-51.94],[3.26,-52.02],[3.21,-51.98],[3.19,-51.83],[3.17,-51.92],[3.16,-52.00],[3.14,-51.93],[3.13,-51.96],
  [3.15,-52.12],[3.19,-52.13],[3.05,-51.87],[3.06,-51.97],[3.06,-52.19],[3.07,-52.30],[3.10,-52.19],[3.12,-52.20],
  [3.14,-52.28],[3.07,-52.45],[3.08,-52.56],[3.15,-52.51],[3.15,-52.65],[3.17,-52.39],[3.20,-52.34],[3.19,-52.44],
  [3.21,-52.49],[3.22,-52.46],[3.25,-52.45],[3.28,-52.48],[3.31,-52.32],[3.32,-52.36],[3.18,-52.57],[3.21,-52.70],
  [3.23,-52.67],[3.24,-52.75],[3.25,-52.79],[3.15,-52.74],[3.09,-52.92],[3.13,-52.88],[3.18,-52.85],[3.02,-52.80],
  [3.00,-52.86],[3.01,-52.94],[3.04,-53.06],[3.09,-53.07],[3.17,-53.02],[3.17,-53.10],[3.16,-53.17],[3.24,-53.14],
  [3.25,-53.10],[3.32,-53.01],[3.13,-53.19],[3.11,-53.28],[3.14,-53.33],[3.17,-53.24],[3.17,-53.32],[3.21,-53.26],
  [3.23,-53.26],[3.24,-53.32],[3.28,-53.33],[3.31,-53.40],[3.33,-53.35],[3.05,-53.37],[3.06,-53.49],[3.06,-53.54],
  [3.03,-53.23],[2.99,-53.20],[3.00,-53.28],[3.12,-53.44],[3.14,-53.45],[3.20,-53.49],[3.25,-53.49],[3.26,-53.58],
  [3.30,-53.41],[3.33,-53.63],[3.31,-53.73],[3.27,-53.65],[3.22,-53.73],[3.22,-53.84],[3.16,-53.71],[3.13,-53.65],
  [3.12,-53.82],[3.06,-53.82],[3.32,-53.84],[3.27,-53.92]];

var svg = d3.select("body").append("svg")
  .attr("width", width)
  .attr("height", height);

svg.append("rect").attr("width", width).attr("height", height).attr("fill", "#fff");

// scales
var xScale = d3.scaleLog().domain([10, 1e4]).range([360.5, 1988]);
var yScale = d3.scaleLog().domain([1e-54, 1e-40]).range([1743.5, 116]);
var xL = xScale.range()[0], xR = xScale.range()[1];
var yT = yScale.range()[1], yB = yScale.range()[0];

function px(d) { return xScale(Math.pow(10, d[0])); }
function py(d) { return yScale(Math.pow(10, d[1])); }

var defs = svg.append("defs");
defs.append("clipPath").attr("id", "plotClip").append("rect")
  .attr("x", xL).attr("y", yT).attr("width", xR - xL).attr("height", yB - yT);

var areaBelow = d3.area().x(px).y0(yB).y1(py).curve(d3.curveMonotoneX);
var areaAbove = d3.area().x(px).y0(yT).y1(py).curve(d3.curveMonotoneX);
var smoothLine = d3.line().x(px).y(py).curve(d3.curveMonotoneX);
var straightLine = d3.line().x(px).y(py);
var yellowArea = d3.area().x(px).y0(yB).y1(py);

defs.append("clipPath").attr("id", "abovePurple").append("path").attr("d", areaAbove(purpleLimit));

var plot = svg.append("g").attr("clip-path", "url(#plotClip)");

// excluded / allowed regions
plot.append("rect").attr("x", xL).attr("y", yT).attr("width", xR - xL).attr("height", yB - yT)
  .attr("fill", "#eaa1e8");
plot.append("path").attr("d", areaBelow(magentaLimit)).attr("fill", "#e6cae6");
plot.append("path").attr("d", areaBelow(purpleLimit)).attr("fill", "#ffffff");
var yellowRegion = [[1.0, yellowLimit[0][1]]].concat(yellowLimit);
plot.append("path").attr("d", yellowArea(yellowRegion)).attr("fill", "#fcfcb4");
plot.append("path").attr("d", straightLine(yellowLimit)).attr("fill", "none")
  .attr("stroke", "#ffff00").attr("stroke-width", 7);

// yellow region seen through the lavender band
var gold = plot.append("g").attr("clip-path", "url(#abovePurple)");
gold.append("path").attr("d", yellowArea(yellowRegion)).attr("fill", "#e6c832")
  .attr("stroke", "#e6c832").attr("stroke-width", 7);

// limit lines
plot.append("path").attr("d", smoothLine(blueLimit)).attr("fill", "none")
  .attr("stroke", "#3300ff").attr("stroke-width", 9).attr("stroke-dasharray", "9,10");
plot.append("path").attr("d", smoothLine(magentaLimit)).attr("fill", "none")
  .attr("stroke", "#ff00ff").attr("stroke-width", 10).attr("stroke-dasharray", "15,17");
plot.append("path").attr("d", smoothLine(purpleLimit)).attr("fill", "none")
  .attr("stroke", "#800080").attr("stroke-width", 10).attr("stroke-dasharray", "32,31");

// dense scan band
var bandPoly = bandUpper.concat(bandLower.slice().reverse());
plot.append("path").attr("d", d3.line().x(px).y(py).curve(d3.curveLinearClosed)(bandPoly))
  .attr("fill", "#ff0000");

// scan points
var mk = 11;
var allPts = ptsSpur.concat(ptsFringe, ptsPink, ptsRight, ptsLavender, ptsLowLeft, ptsLowRight);
plot.selectAll("rect.pt").data(allPts).join("rect")
  .attr("class", "pt")
  .attr("x", function(d) { return px(d) - mk / 2; })
  .attr("y", function(d) { return py(d) - mk / 2; })
  .attr("width", mk).attr("height", mk)
  .attr("fill", "#ff0000");

// frame
svg.append("rect").attr("x", xL).attr("y", yT).attr("width", xR - xL).attr("height", yB - yT)
  .attr("fill", "none").attr("stroke", "#000").attr("stroke-width", 11);

// ticks
var tickW = 9, minorLen = 13.5, majorLen = 17.5;
var xTicks = massMinor.map(function(m) { return {v: m, len: minorLen}; })
  .concat(massMajor.slice(1, -1).map(function(m) { return {v: m, len: majorLen}; }));
var gt = svg.append("g").attr("stroke", "#000").attr("stroke-width", tickW);
gt.selectAll("line.xb").data(xTicks).join("line").attr("class", "xb")
  .attr("x1", function(d) { return xScale(d.v); }).attr("x2", function(d) { return xScale(d.v); })
  .attr("y1", yB).attr("y2", function(d) { return yB - d.len; });
gt.selectAll("line.xt").data(xTicks).join("line").attr("class", "xt")
  .attr("x1", function(d) { return xScale(d.v); }).attr("x2", function(d) { return xScale(d.v); })
  .attr("y1", yT).attr("y2", function(d) { return yT + d.len; });
var yTicks = sigmaMinorExp.map(function(e) { return {v: e, len: minorLen}; })
  .concat(sigmaMajorExp.map(function(e) { return {v: e, len: majorLen}; }));
gt.selectAll("line.yl").data(yTicks).join("line").attr("class", "yl")
  .attr("y1", function(d) { return yScale(Math.pow(10, d.v)); })
  .attr("y2", function(d) { return yScale(Math.pow(10, d.v)); })
  .attr("x1", xL).attr("x2", function(d) { return xL + d.len; });
gt.selectAll("line.yr").data(yTicks).join("line").attr("class", "yr")
  .attr("y1", function(d) { return yScale(Math.pow(10, d.v)); })
  .attr("y2", function(d) { return yScale(Math.pow(10, d.v)); })
  .attr("x1", xR).attr("x2", function(d) { return xR - d.len; });

// tick labels
var xl = svg.selectAll("text.xl").data(massMajor).join("text").attr("class", "xl")
  .attr("x", function(d) { return xScale(d); })
  .attr("y", function(d, i) { return massLabelExp[i] ? 1828 : 1819; })
  .attr("text-anchor", "middle").attr("font-size", 63);
xl.append("tspan").text(function(d, i) { return massLabelBase[i]; });
xl.append("tspan").attr("font-size", 46).attr("dy", -31).text(function(d, i) { return massLabelExp[i]; });

var yl = svg.selectAll("text.yl").data(sigmaMajorExp).join("text").attr("class", "yl")
  .attr("x", 337)
  .attr("y", function(d) { return yScale(Math.pow(10, d)) + 28; })
  .attr("text-anchor", "end").attr("font-size", 66);
yl.append("tspan").text("10");
yl.append("tspan").attr("font-size", 50).attr("dy", -32).text(function(d) { return "\u2212" + (-d); });

// title
var title = svg.append("text").attr("x", (xL + xR) / 2).attr("y", 83)
  .attr("text-anchor", "middle").attr("font-size", 74);
title.append("tspan").text("Complex Scalar DM, Coupling with ");
title.append("tspan").attr("font-style", "italic").text("b");
title.append("tspan").attr("font-style", "italic").attr("font-size", 51).attr("dy", 14).text("L");
title.append("tspan").attr("dy", -14).text(",");
title.append("tspan").attr("font-style", "italic").text("t");
title.append("tspan").attr("font-style", "italic").attr("font-size", 51).attr("dy", 14).text("L");

// helper for pieced labels
function piece(g, str, x, y, size, italic) {
  var t = g.append("text").attr("x", x).attr("y", y).attr("font-size", size).text(str);
  if (italic) t.attr("font-style", "italic");
  return t.node().getComputedTextLength();
}

// x axis title
var xt = svg.append("g");
var xti = xt.append("g");
var cx = 0;
cx += piece(xti, "M", cx, 0, 66, true) + 1;
cx += piece(xti, "\u03A6", cx, 12, 52, false);
cx += piece(xti, "DM", cx, 23, 40, false) + 2;
cx += piece(xti, "[GeV]", cx, 0, 66, false);
xti.attr("transform", "translate(" + (-cx / 2) + ",0)");
xt.attr("transform", "translate(" + ((xL + xR) / 2) + ",1932)");

// y axis title
var yt = svg.append("g");
var yti = yt.append("g");
var cy = 0;
cy += piece(yti, "\u03C3", cy, 0, 68, true) + 3;
var wSup = piece(yti, "SI", cy, -37, 45, false);
var sub = yti.append("text").attr("x", cy).attr("y", 18).attr("font-size", 45);
sub.append("tspan").text("DM,");
sub.append("tspan").attr("font-style", "italic").text("p");
cy += Math.max(wSup, sub.node().getComputedTextLength()) + 4;
cy += piece(yti, "[cm", cy, 0, 68, false) + 1;
cy += piece(yti, "2", cy, -31, 45, false) + 2;
cy += piece(yti, "]", cy, 0, 68, false);
yti.attr("transform", "translate(" + (-cy / 2) + ",0)");
yt.attr("transform", "translate(112," + ((yT + yB) / 2) + ") rotate(-90)");
</script>
</body>
</html>
